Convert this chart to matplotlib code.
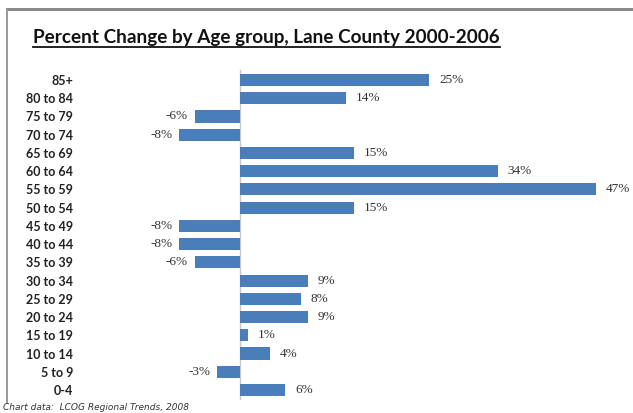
import numpy as np
import matplotlib
matplotlib.use("Agg")
import matplotlib.pyplot as plt
from matplotlib.patches import Rectangle
from matplotlib.lines import Line2D

# Age groups, top to bottom, and percent change 2000-2006
age_groups = ["85+", "80 to 84", "75 to 79", "70 to 74", "65 to 69", "60 to 64",
              "55 to 59", "50 to 54", "45 to 49", "40 to 44", "35 to 39", "30 to 34",
              "25 to 29", "20 to 24", "15 to 19", "10 to 14", "5 to 9", "0-4"]
pct_change = [25, 14, -6, -8, 15, 34, 47, 15, -8, -8, -6, 9, 8, 9, 1, 4, -3, 6]

W, H = 633, 413
fig = plt.figure(figsize=(W / 100, H / 100), dpi=100)
fig.patch.set_facecolor("white")

# plot area: zero line at x=240px, 47% reaches ~596px
px_per_pct = (596 - 240) / 47
xmin, xmax = -22, 51
left_px = 240 + xmin * px_per_pct
right_px = 240 + xmax * px_per_pct
ax = fig.add_axes([left_px / W, (H - 400) / H, (right_px - left_px) / W, 330 / H])

y = np.arange(len(age_groups))[::-1]
ax.barh(y, pct_change, height=0.66, color="#4a7ebb", zorder=2)
ax.set_xlim(xmin, xmax)
ax.set_ylim(-0.55, len(age_groups) - 0.45)

for s in ax.spines.values():
    s.set_visible(False)
ax.axvline(0, color="#c8c8c8", lw=1, zorder=1)
ax.set_xticks([])
ax.set_yticks(y)
ax.set_yticklabels(age_groups, fontsize=9, fontweight="bold", family="Lato", color="#222222")
ax.tick_params(axis="y", length=0, pad=0)

for yi, v in zip(y, pct_change):
    if v >= 0:
        ax.text(v + 1.3, yi, f"{v}%", ha="left", va="center", fontsize=9.5,
                family="Liberation Serif", color="#333333")
    else:
        ax.text(v - 0.9, yi, f"{v}%", ha="right", va="center", fontsize=9.5,
                family="Liberation Serif", color="#333333")

# title with underline
title = fig.text(33 / W, 1 - 37 / H, "Percent Change by Age group, Lane County 2000-2006",
                 ha="left", va="center", fontsize=13.6, fontweight="bold", family="Lato",
                 color="#111111")
fig.canvas.draw()
bb = title.get_window_extent()
fig.add_artist(Line2D([bb.x0 / W, bb.x1 / W], [(bb.y0 - 1) / H, (bb.y0 - 1) / H],
                      color="#111111", lw=1.3, transform=fig.transFigure))

# chart frame edges
fig.add_artist(Rectangle((6 / W, 1 - 11 / H), 1, 3 / H, transform=fig.transFigure,
                         color="#8a8a8a", lw=0))
fig.add_artist(Rectangle((6 / W, (H - 404) / H), 2 / W, (404 - 9) / H,
                         transform=fig.transFigure, color="#9a9a9a", lw=0))

fig.text(3 / W, 1 / H, "Chart data:  LCOG Regional Trends, 2008", ha="left", va="bottom",
         fontsize=6.5, style="italic", color="#333333")

fig.savefig("out.png", dpi=100)
